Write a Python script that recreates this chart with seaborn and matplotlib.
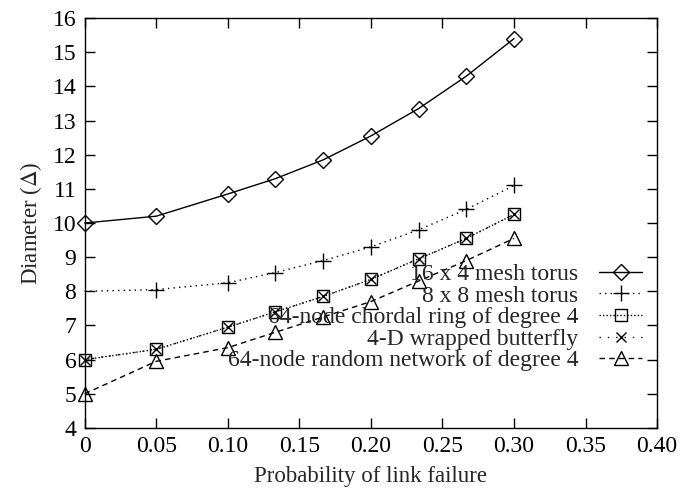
import matplotlib
matplotlib.use("Agg")
import matplotlib.pyplot as plt
import seaborn as sns
import numpy as np

p_fail = [0, 0.05, 0.10, 0.1333, 0.1667, 0.20, 0.2333, 0.2667, 0.30]
torus_16x4 = [10.0, 10.2, 10.85, 11.3, 11.85, 12.55, 13.35, 14.3, 15.4]
torus_8x8 = [8.0, 8.05, 8.25, 8.55, 8.9, 9.3, 9.8, 10.4, 11.1]
chordal_ring = [6.0, 6.3, 6.95, 7.4, 7.85, 8.35, 8.95, 9.55, 10.25]
butterfly = [6.0, 6.3, 6.95, 7.4, 7.85, 8.35, 8.95, 9.55, 10.25]
random_net = [5.0, 5.95, 6.35, 6.8, 7.25, 7.7, 8.3, 8.9, 9.55]

labels = ["16 x 4 mesh torus", "8 x 8 mesh torus",
          "64-node chordal ring of degree 4", "4-D wrapped butterfly",
          "64-node random network of degree 4"]
xticks = [0, 0.05, 0.10, 0.15, 0.20, 0.25, 0.30, 0.35, 0.40]
xticklabels = ["0", "0.05", "0.10", "0.15", "0.20", "0.25", "0.30", "0.35", "0.40"]
yticks = list(range(4, 17))

sns.set_style("ticks")
plt.rcParams["font.family"] = ["Liberation Serif", "DejaVu Serif"]
plt.rcParams["mathtext.fontset"] = "stix"

fig = plt.figure(figsize=(6.83, 5.04), dpi=100)
ax = fig.add_axes([0.124, 0.151, 0.838, 0.813])


def style(ms=9):
    return dict(color="black", linewidth=1.0, markersize=ms, markeredgewidth=1.0,
                markeredgecolor="black", fillstyle="none", ax=ax, clip_on=False)


sns.lineplot(x=p_fail, y=torus_16x4, marker="D", linestyle="-",
             label=labels[0], **style(8))
sns.lineplot(x=p_fail, y=torus_8x8, marker="+", linestyle=(0, (1, 3)),
             markevery=slice(1, None), label=labels[1], **style(11))
sns.lineplot(x=p_fail, y=chordal_ring, marker="s", linestyle=(0, (1, 1.5)),
             label=labels[2], **style(9))
sns.lineplot(x=p_fail, y=butterfly, marker="x", linestyle=(0, (1, 5)),
             label=labels[3], **style(7.5))
sns.lineplot(x=p_fail, y=random_net, marker="^", linestyle=(0, (4, 3)),
             label=labels[4], **style(9.5))

ax.set_xlim(0, 0.40)
ax.set_ylim(4, 16)
ax.set_xticks(xticks)
ax.set_xticklabels(xticklabels)
ax.set_yticks(yticks)
ax.tick_params(direction="in", top=True, right=True, labelsize=17, length=7,
               width=1.0, pad=6, colors="black")
for s in ax.spines.values():
    s.set_linewidth(1.0)
    s.set_color("black")
ax.set_xlabel("Probability of link failure", fontsize=16.5, labelpad=6)
ax.set_ylabel("Diameter ($\\Delta$)", fontsize=16.5, labelpad=6)

ax.legend(loc="lower right", bbox_to_anchor=(0.99, 0.115), frameon=False,
          markerfirst=False, fontsize=17, handlelength=1.8, labelspacing=0.0,
          handletextpad=0.9, borderaxespad=0.0)

fig.savefig("out.png", dpi=100)
